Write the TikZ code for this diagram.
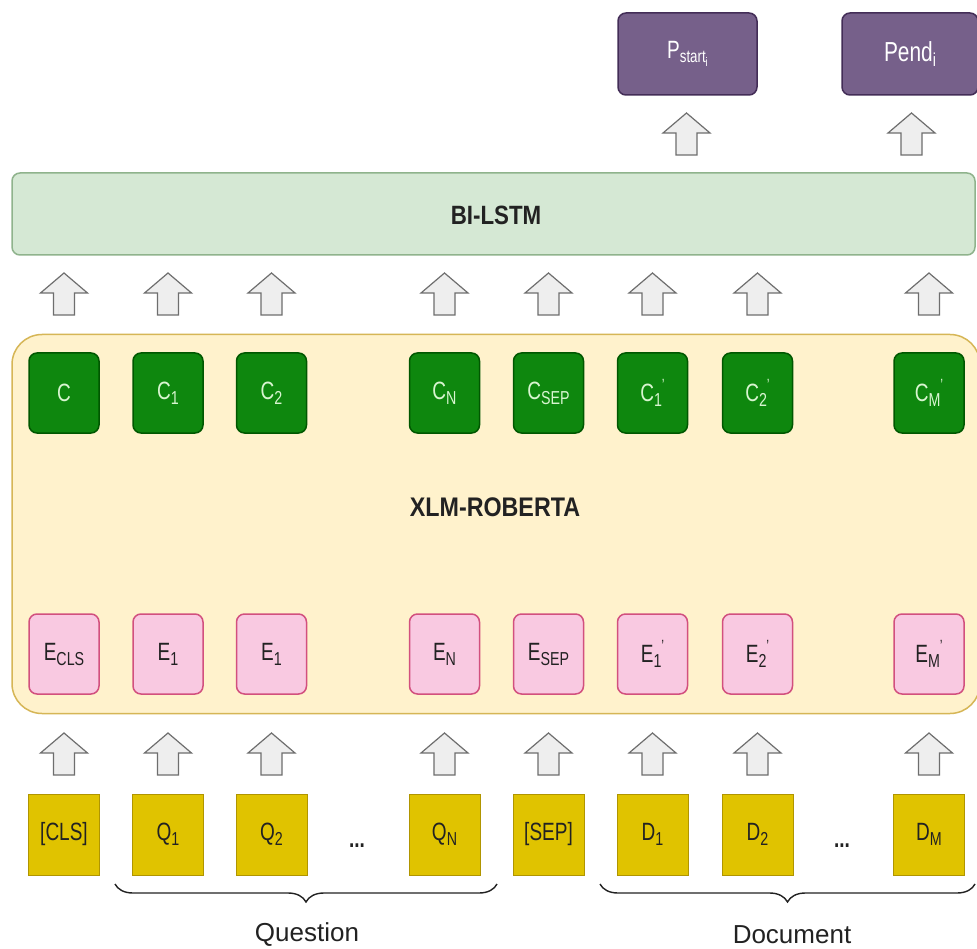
\documentclass[tikz,border=0pt]{standalone}
\usepackage{fontspec}
\usepackage{graphicx}
\setmainfont{Liberation Sans}
\usetikzlibrary{decorations.pathreplacing,calc}
\definecolor{lstmfill}{HTML}{D5E8D4}
\definecolor{lstmdraw}{HTML}{8FB38C}
\definecolor{xlmfill}{HTML}{FFF2CC}
\definecolor{xlmdraw}{HTML}{D6B656}
\definecolor{gfill}{HTML}{0E870E}
\definecolor{gdraw}{HTML}{005700}
\definecolor{gtext}{HTML}{D8F5D0}
\definecolor{pfill}{HTML}{F9C9E1}
\definecolor{pdraw}{HTML}{D2507E}
\definecolor{yfill}{HTML}{E0C300}
\definecolor{ydraw}{HTML}{B09500}
\definecolor{vfill}{HTML}{76608A}
\definecolor{vdraw}{HTML}{432D57}
\definecolor{afill}{HTML}{EEEEEE}
\definecolor{adraw}{HTML}{6E6E6E}
\definecolor{dtext}{HTML}{222222}
\newcommand\lblfont{\fontsize{20}{24}\selectfont}
\newcommand\tl[1]{\scalebox{0.95}[1.25]{#1}}
\newcommand\sbs[1]{\raisebox{-4pt}{\fontsize{15}{15}\selectfont #1}}
\newcommand\prm{\raisebox{9pt}{\fontsize{13}{13}\selectfont '}}
\tikzset{
  cbox/.style={draw=gdraw, fill=gfill, rounded corners=8pt, minimum width=70pt, minimum height=80pt, line width=1.5pt, text=gtext, font=\lblfont, inner sep=0pt},
  ebox/.style={draw=pdraw, fill=pfill, rounded corners=8pt, minimum width=70pt, minimum height=80pt, line width=1.5pt, text=dtext, font=\lblfont, inner sep=0pt},
  tbox/.style={draw=ydraw, fill=yfill, minimum width=71pt, minimum height=81pt, line width=1pt, text=dtext, font=\lblfont, inner sep=0pt},
  obox/.style={draw=vdraw, fill=vfill, rounded corners=8pt, minimum width=139pt, minimum height=82pt, line width=1.5pt, text=white, font=\lblfont, inner sep=0pt},
  arrowstyle/.style={draw=adraw, fill=afill, line width=1.2pt, line join=miter},
  uparrow/.pic={\path[arrowstyle] (-10.5,21) -- (-10.5,-1) -- (-23.5,-1) -- (0,-21) -- (23.5,-1) -- (10.5,-1) -- (10.5,21) -- cycle;},
  bracestyle/.style={draw=dtext, line width=1.4pt, decorate, decoration={brace, mirror, amplitude=18pt}},
  bigtext/.style={text=dtext, font=\fontsize{26}{30}\selectfont, inner sep=0pt},
  dots/.style={text=dtext, font=\bfseries\lblfont, inner sep=0pt},
}
\begin{document}
\begin{tikzpicture}[x=1pt,y=-1pt]
\useasboundingbox (0,0) rectangle (977,949);
\fill[white] (0,0) rectangle (977,949);

% big layers
\node[draw=xlmdraw, fill=xlmfill, line width=1.5pt, rounded corners=30pt, minimum width=968pt, minimum height=379pt, inner sep=0pt] (xlm) at (496,524) {};
\node[font=\bfseries\fontsize{24}{28}\selectfont, text=dtext] (xlmlbl) at (495,507) {\scalebox{0.97}[1.12]{XLM-ROBERTA}};
\node[draw=lstmdraw, fill=lstmfill, line width=1.5pt, rounded corners=8pt, minimum width=963pt, minimum height=82pt, inner sep=0pt] (lstm) at (493.5,214) {};
\node[font=\bfseries\fontsize{23}{28}\selectfont, text=dtext] (lstmlbl) at (496,215) {\scalebox{0.97}[1.15]{BI-LSTM}};

% outputs
\node[obox] (ps) at (687.5,54) {\fontsize{20}{22}\selectfont\tl{P\raisebox{-3pt}{\fontsize{14}{14}\selectfont start\raisebox{-3pt}{\fontsize{10}{10}\selectfont i}}}};
\node[obox, minimum width=136pt] (pe) at (910,54) {\fontsize{22}{26}\selectfont\tl{Pend\raisebox{-4pt}{\fontsize{15}{15}\selectfont i}}};

% C row
\node[cbox] (c0) at (64,393) {\tl{C}};
\node[cbox] (c1) at (168,393) {\tl{C\sbs{1}}};
\node[cbox] (c2) at (271.5,393) {\tl{C\sbs{2}}};
\node[cbox] (cn) at (444.5,393) {\tl{C\sbs{N}}};
\node[cbox] (cs) at (548.5,393) {\tl{C\sbs{SEP}}};
\node[cbox] (d1c) at (652.5,393) {\tl{C\sbs{1}\prm}};
\node[cbox] (d2c) at (757.5,393) {\tl{C\sbs{2}\prm}};
\node[cbox] (dmc) at (929,393) {\tl{C\sbs{M}\prm}};

% E row
\node[ebox] (e0) at (64,654) {\tl{E\sbs{CLS}}};
\node[ebox] (e1) at (168,654) {\tl{E\sbs{1}}};
\node[ebox] (e2) at (271.5,654) {\tl{E\sbs{1}}};
\node[ebox] (en) at (444.5,654) {\tl{E\sbs{N}}};
\node[ebox] (es) at (548.5,654) {\tl{E\sbs{SEP}}};
\node[ebox] (d1e) at (652.5,654) {\tl{E\sbs{1}\prm}};
\node[ebox] (d2e) at (757.5,654) {\tl{E\sbs{2}\prm}};
\node[ebox] (dme) at (929,654) {\tl{E\sbs{M}\prm}};

% token row
\node[tbox] (t0) at (64,834.5) {\tl{[CLS]}};
\node[tbox] (q1) at (168,834.5) {\tl{Q\sbs{1}}};
\node[tbox] (q2) at (271.5,834.5) {\tl{Q\sbs{2}}};
\node[dots] (qdots) at (357,846) {\tl{...}};
\node[tbox] (qn) at (444.5,834.5) {\tl{Q\sbs{N}}};
\node[tbox] (ts) at (548.5,834.5) {\tl{[SEP]}};
\node[tbox] (d1) at (652.5,834.5) {\tl{D\sbs{1}}};
\node[tbox] (d2) at (757.5,834.5) {\tl{D\sbs{2}}};
\node[dots] (ddots) at (842,846) {\tl{...}};
\node[tbox] (dm) at (929,834.5) {\tl{D\sbs{M}}};

% block arrows
\foreach \x in {64,168,271.5,444.5,548.5,652.5,757.5,929} {
  \pic at (\x,754) {uparrow};
  \pic at (\x,294) {uparrow};
}
\pic at (686.5,134) {uparrow};
\pic at (911.5,134) {uparrow};

% braces
\coordinate (qb1) at (115,884);
\coordinate (qb2) at (497,884);
\coordinate (db1) at (600,884);
\coordinate (db2) at (975,884);
\draw[bracestyle] (qb1) -- (qb2);
\draw[bracestyle] (db1) -- (db2);
\node[bigtext] (qlbl) at (307,935) {Question};
\node[bigtext] (dlbl) at (792,935) {Document};
\end{tikzpicture}
\end{document}
